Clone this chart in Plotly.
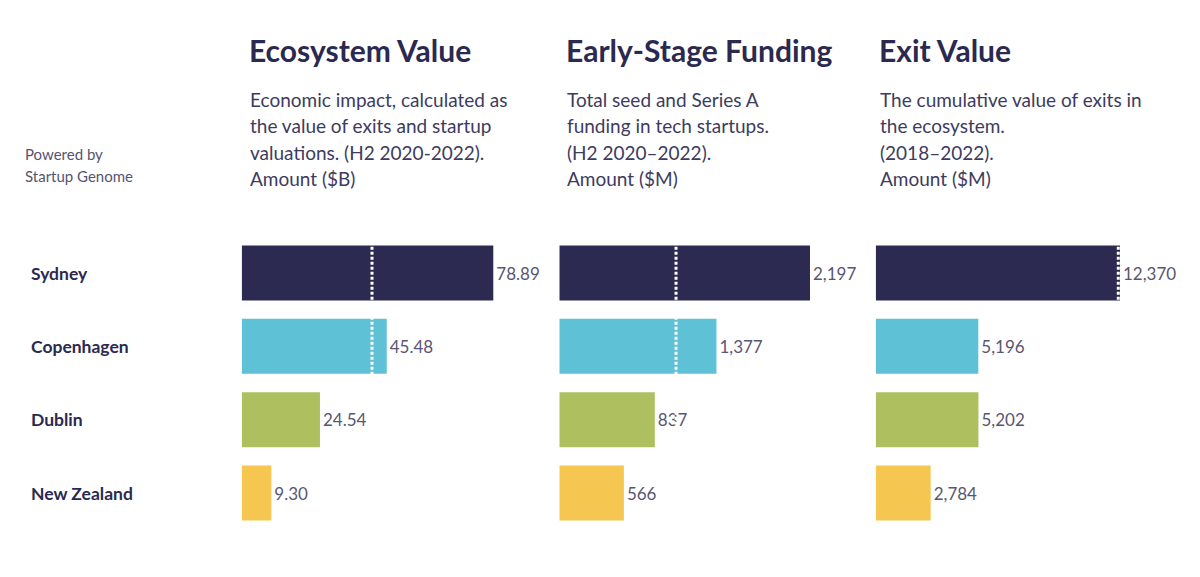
import plotly.graph_objects as go

cities = ["Sydney", "Copenhagen", "Dublin", "New Zealand"]
colors = ["#2d2a52", "#5ec1d6", "#adbf5f", "#f5c751"]

ecosystem_value = [78.89, 45.48, 24.54, 9.30]
early_stage = [2197, 1377, 837, 566]
exit_value = [12370, 5196, 5202, 2784]

ref_lines = [40.86, 1023, 12283]

titles = ["Ecosystem Value", "Early-Stage Funding", "Exit Value"]
subtitles = [
    ["Economic impact, calculated as", "the value of exits and startup",
     "valuations. (H2 2020-2022).", "Amount ($B)"],
    ["Total seed and Series A", "funding in tech startups.",
     "(H2 2020–2022).", "Amount ($M)"],
    ["The cumulative value of exits in", "the ecosystem.",
     "(2018–2022).", "Amount ($M)"],
]
credit = ["Powered by", "Startup Genome"]

W, H = 1200, 577
FONT = "Lato"
NAVY = "#2b2950"

def px(x):
    return x / W

def py(y):
    return 1 - y / H

# panel geometry (pixel starts and value-per-pixel scales)
starts = [241.7, 559.3, 875.7]
scales = [78.89 / 251.6, 2197 / 250.7, 12370 / 244.3]
panel_w = 300
title_x = [246.5, 563.5, 876.5]

series = [ecosystem_value, early_stage, exit_value]
templates = ["%{x:.2f}", "%{x:,}", "%{x:,}"]

fig = go.Figure()
ydom = [py(529.67), py(236.33)]

for i in range(3):
    sfx = "" if i == 0 else str(i + 1)
    fig.add_trace(go.Bar(
        y=cities, x=series[i], orientation="h",
        marker=dict(color=colors, line=dict(width=0)),
        texttemplate=templates[i], textposition="outside",
        textfont=dict(family=FONT, size=17, color="#585672"),
        cliponaxis=False, hoverinfo="skip",
        xaxis="x" + sfx, yaxis="y" + sfx, width=0.75,
    ))
    xa = dict(domain=[px(starts[i]), px(starts[i] + panel_w)],
              range=[0, scales[i] * panel_w], visible=False,
              anchor="y" + sfx, fixedrange=True)
    ya = dict(domain=ydom, type="category", categoryorder="array",
              categoryarray=cities, autorange="reversed", visible=False,
              anchor="x" + sfx, range=[3.5, -0.5])
    fig.layout["xaxis" + sfx] = xa
    fig.layout["yaxis" + sfx] = ya
    fig.add_shape(type="line", xref="x" + sfx, yref="y" + sfx + " domain",
                  x0=ref_lines[i], x1=ref_lines[i], y0=0, y1=1,
                  line=dict(color="white", width=3, dash="3px,2px"),
                  layer="above")

annotations = []
for i in range(3):
    annotations.append(dict(
        text="<b>" + titles[i] + "</b>", x=px(title_x[i]), y=py(50),
        xref="paper", yref="paper", xanchor="left", yanchor="middle",
        showarrow=False, font=dict(family=FONT, size=30, color=NAVY)))
    for j, line in enumerate(subtitles[i]):
        annotations.append(dict(
            text=line, x=px(title_x[i] + 1), y=py(100 + 26 * j),
            xref="paper", yref="paper", xanchor="left", yanchor="middle",
            showarrow=False, font=dict(family=FONT, size=19, color="#3d3b5e")))

for j, line in enumerate(credit):
    annotations.append(dict(
        text=line, x=px(23), y=py(154.5 + 21 * j),
        xref="paper", yref="paper", xanchor="left", yanchor="middle",
        showarrow=False, font=dict(family=FONT, size=15, color="#56546f")))

for c in cities:
    annotations.append(dict(
        text="<b>" + c + "</b>", x=px(28.5), y=c, xref="paper", yref="y",
        xanchor="left", yanchor="middle", showarrow=False,
        font=dict(family=FONT, size=17.5, color=NAVY)))

fig.update_layout(
    width=W, height=H, margin=dict(l=0, r=0, t=0, b=0),
    paper_bgcolor="white", plot_bgcolor="white",
    showlegend=False, bargap=0.25, annotations=annotations,
)

fig.write_html("out.html", config={"displayModeBar": False})
